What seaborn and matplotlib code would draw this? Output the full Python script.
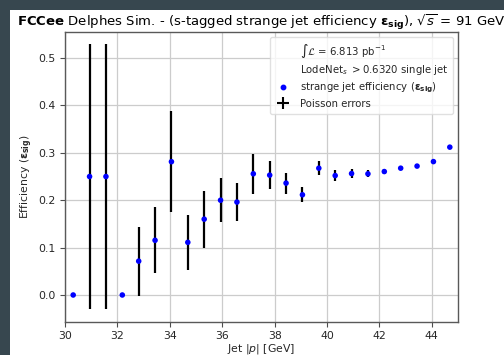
import matplotlib
matplotlib.use("Agg")
import matplotlib.pyplot as plt
from matplotlib.lines import Line2D
from matplotlib.patches import Rectangle
import seaborn as sns
import pandas as pd

jet_p = [30.3125, 30.9375, 31.5625, 32.1875, 32.8125, 33.4375, 34.0625, 34.6875,
         35.3125, 35.9375, 36.5625, 37.1875, 37.8125, 38.4375, 39.0625, 39.6875,
         40.3125, 40.9375, 41.5625, 42.1875, 42.8125, 43.4375, 44.0625, 44.6875]
efficiency = [0.0, 0.25, 0.25, 0.0, 0.0714, 0.1154, 0.2813, 0.1111,
              0.16, 0.2, 0.1961, 0.2558, 0.2529, 0.2361, 0.2115, 0.2676,
              0.2520, 0.2563, 0.2557, 0.2605, 0.2676, 0.2720, 0.2815, 0.3120]
poisson_err = [0.0, 0.28, 0.28, 0.0, 0.0725, 0.070, 0.106, 0.058,
               0.060, 0.047, 0.040, 0.042, 0.029, 0.022, 0.0155, 0.015,
               0.011, 0.009, 0.0075, 0.005, 0.004, 0.003, 0.0025, 0.002]
y_ticks = [0.0, 0.1, 0.2, 0.3, 0.4, 0.5]
x_ticks = [30, 32, 34, 36, 38, 40, 42, 44]

df = pd.DataFrame({"p": jet_p, "eff": efficiency, "err": poisson_err})

sns.set_theme(style="ticks")
plt.rcParams["font.family"] = ["DejaVu Sans"]
plt.rcParams["mathtext.fontset"] = "dejavusans"

W, H = 504, 355
fig = plt.figure(figsize=(W / 100, H / 100), dpi=100)
fig.patch.set_facecolor("#37474F")
fig.add_artist(Rectangle((10 / W, 0), 1 - 10 / W, 1 - 10 / H,
                         transform=fig.transFigure, facecolor="white",
                         edgecolor="none", zorder=0))

ax = fig.add_axes([65 / W, 1 - 322 / H, (458 - 65) / W, (322 - 32) / H])
ax.set_facecolor("white")
ax.grid(True, color="0.8", linewidth=0.9)
ax.set_axisbelow(True)

ax.vlines(df["p"], df["eff"] - df["err"], df["eff"] + df["err"],
          color="black", linewidth=1.6, zorder=2)
sns.scatterplot(data=df, x="p", y="eff", ax=ax, color="blue", s=16,
                edgecolor="none", zorder=3, legend=False)

ax.set_xlim(30, 45)
ax.set_ylim(-0.057, 0.555)
ax.set_xticks(x_ticks)
ax.set_yticks(y_ticks)
ax.tick_params(labelsize=7.8, length=3.5, color="0.3", width=0.8, pad=3)
for s in ax.spines.values():
    s.set_color("0.35")
    s.set_linewidth(1.0)

ax.set_xlabel(r"Jet $|p|$ [GeV]", fontsize=7.8, labelpad=0.5)
ax.set_ylabel(r"Efficiency ($\boldsymbol{\varepsilon}_{\mathbf{sig}}$)", fontsize=7.8, labelpad=2.5)

handles = [
    Line2D([], [], linestyle="none", marker=None),
    Line2D([], [], linestyle="none", marker=None),
    Line2D([], [], linestyle="none", marker="o", color="blue", markersize=3.2),
    Line2D([], [], linestyle="none", marker="+", color="black", markersize=8, markeredgewidth=1.5),
]
labels = [
    r"$\int\mathcal{L}$ = 6.813 pb$^{-1}$",
    r"LodeNet$_s$ $> 0.6320$ single jet",
    r"strange jet efficiency ($\boldsymbol{\varepsilon}_{\mathbf{sig}}$)",
    "Poisson errors",
]
leg = ax.legend(handles, labels, loc="upper right", fontsize=7.3, frameon=True,
                borderaxespad=0.45, handlelength=1.6, labelspacing=0.35,
                borderpad=0.5)
leg.get_frame().set_edgecolor("0.85")

fig.text(17 / W, 1 - 26 / H,
         r"$\bf{FCCee}$ Delphes Sim. - (s-tagged strange jet efficiency $\boldsymbol{\varepsilon}_{\mathbf{sig}}$), $\sqrt{s}$ = 91 GeV",
         fontsize=9.5, ha="left", va="baseline", color="black")

fig.savefig("out.png", dpi=100, facecolor=fig.get_facecolor())
